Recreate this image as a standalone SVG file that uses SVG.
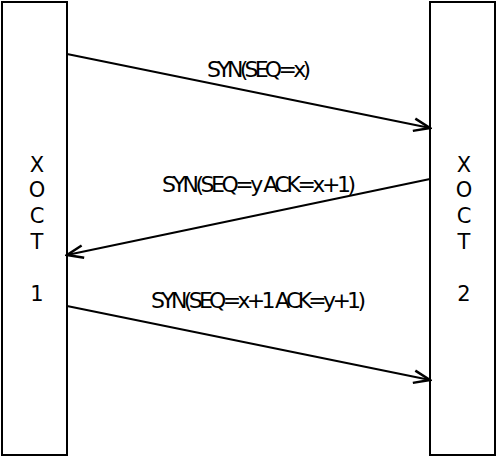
<svg xmlns="http://www.w3.org/2000/svg" width="499" height="459" viewBox="0 0 499 459">
<style>
.box{fill:#fff;stroke:#000;stroke-width:2}
.t{font-family:"DejaVu Sans",sans-serif;font-size:21px;fill:#000}
.lbl{font-size:22px}
.c{text-anchor:middle}
.ln{stroke:#000;stroke-width:2;fill:none;marker-end:url(#ah)}
</style>
<defs>
<marker id="ah" markerUnits="userSpaceOnUse" markerWidth="20" markerHeight="20" refX="14" refY="6" orient="auto" viewBox="0 0 16 12">
<path d="M1,1 L14,6 L1,11" fill="none" stroke="#000" stroke-width="2"/>
</marker>
</defs>
<rect width="499" height="459" fill="#fff"/>
<g id="host1">
<rect class="box" x="2" y="2" width="65" height="453"/>
<text class="t c" x="37" y="172">X</text>
<text class="t c" x="37" y="197">O</text>
<text class="t c" x="37" y="223">C</text>
<text class="t c" x="37" y="249">T</text>
<text class="t c" x="37" y="301">1</text>
</g>
<g id="host2">
<rect class="box" x="430" y="2" width="65" height="453"/>
<text class="t c" x="464" y="172">X</text>
<text class="t c" x="464" y="197">O</text>
<text class="t c" x="464" y="223">C</text>
<text class="t c" x="464" y="249">T</text>
<text class="t c" x="464" y="301">2</text>
</g>
<g id="connectors">
<line class="ln" x1="67" y1="54" x2="430" y2="128"/>
<line class="ln" x1="430" y1="179" x2="67" y2="255"/>
<line class="ln" x1="67" y1="306" x2="430" y2="380"/>
</g>
<g id="labels">
<text class="t lbl" x="207" y="77" textLength="104" lengthAdjust="spacing">SYN(SEQ=x)</text>
<text class="t lbl" x="162" y="192" textLength="194" lengthAdjust="spacing">SYN(SEQ=y ACK=x+1)</text>
<text class="t lbl" x="151" y="308" textLength="215" lengthAdjust="spacing">SYN(SEQ=x+1 ACK=y+1)</text>
</g>
</svg>
